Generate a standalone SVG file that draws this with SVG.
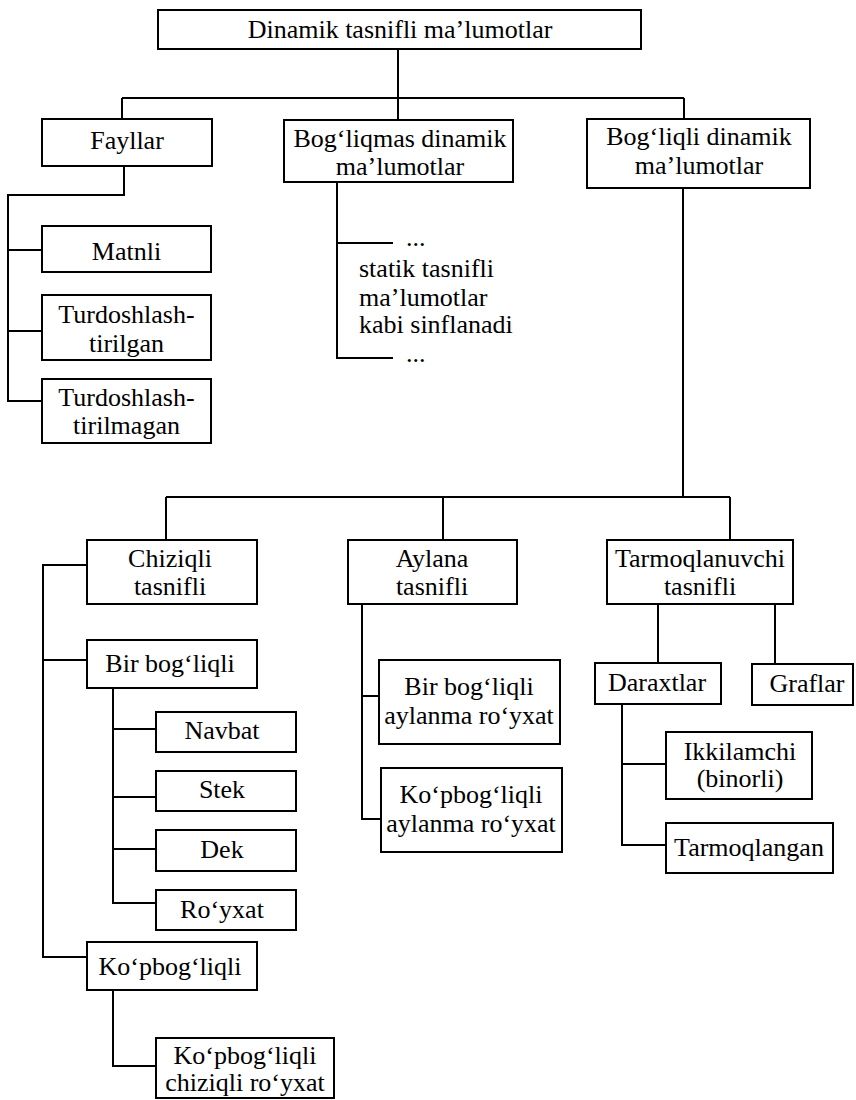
<svg xmlns="http://www.w3.org/2000/svg" width="856" height="1100" viewBox="0 0 856 1100">
  <style>
    .box { fill: #ffffff; stroke: #000000; stroke-width: 2; }
    text { font-family: 'Liberation Serif', 'Times New Roman', Times, serif; font-size: 26px; fill: #000000; }
    .lbl { text-anchor: middle; }
    .wire { fill: none; stroke: #000000; stroke-width: 2; }
  </style>
  <rect x="0" y="0" width="856" height="1100" fill="#ffffff"/>

  <!-- connectors -->
  <g id="connectors" class="wire">
    <path d="M398,49 V120"/>
    <path d="M122,98 H684"/>
    <path d="M122,98 V119"/>
    <path d="M684,98 V119"/>
    <!-- Fayllar branch -->
    <path d="M124,166 V195 H8 V401 H42"/>
    <path d="M8,250 H42"/>
    <path d="M8,331 H42"/>
    <!-- Bog'liqmas branch -->
    <path d="M337,182 V358 H393"/>
    <path d="M337,243 H393"/>
    <!-- Bog'liqli branch -->
    <path d="M683,188 V497"/>
    <path d="M166,497 H730"/>
    <path d="M166,497 V540"/>
    <path d="M443,497 V540"/>
    <path d="M730,497 V540"/>
    <!-- Chiziqli -->
    <path d="M87,565 H43 V957 H87"/>
    <path d="M43,660 H87"/>
    <!-- Bir bog'liqli -->
    <path d="M113,688 V903 H156"/>
    <path d="M113,729 H156"/>
    <path d="M113,797 H156"/>
    <path d="M113,849 H156"/>
    <!-- Ko'pbog'liqli -->
    <path d="M113,990 V1066 H156"/>
    <!-- Aylana -->
    <path d="M362,604 V819 H381"/>
    <path d="M362,696 H379"/>
    <!-- Tarmoqlanuvchi -->
    <path d="M658,604 V663"/>
    <path d="M775,604 V664"/>
    <!-- Daraxtlar -->
    <path d="M622,704 V845 H666"/>
    <path d="M622,764 H666"/>
  </g>

  <g id="root">
    <rect class="box" x="158" y="10" width="483" height="39"/>
    <text class="lbl" x="400" y="38" font-family="Liberation Serif">Dinamik tasnifli ma’lumotlar</text>
  </g>

  <g id="fayllar">
    <rect class="box" x="42" y="119" width="170" height="47"/>
    <text class="lbl" x="127" y="149">Fayllar</text>
  </g>

  <g id="matnli">
    <rect class="box" x="42" y="226" width="169" height="46"/>
    <text class="lbl" x="126.5" y="260">Matnli</text>
  </g>

  <g id="tirilgan">
    <rect class="box" x="42" y="295" width="169" height="65"/>
    <text class="lbl" x="126.5" y="323">Turdoshlash-</text>
    <text class="lbl" x="126.5" y="352">tirilgan</text>
  </g>

  <g id="tirilmagan">
    <rect class="box" x="42" y="379" width="169" height="64"/>
    <text class="lbl" x="126.5" y="406">Turdoshlash-</text>
    <text class="lbl" x="126.5" y="434">tirilmagan</text>
  </g>

  <g id="bogliqmas">
    <rect class="box" x="284" y="120" width="229" height="62"/>
    <text class="lbl" x="400" y="147">Bog‘liqmas dinamik</text>
    <text class="lbl" x="400" y="175">ma’lumotlar</text>
  </g>

  <g id="bogliqmas-note">
    <text x="406" y="246">...</text>
    <text x="359" y="277">statik tasnifli</text>
    <text x="359" y="306">ma’lumotlar</text>
    <text x="359" y="333">kabi sinflanadi</text>
    <text x="406" y="362">...</text>
  </g>

  <g id="bogliqli">
    <rect class="box" x="587" y="119" width="223" height="69"/>
    <text class="lbl" x="699" y="145">Bog‘liqli dinamik</text>
    <text class="lbl" x="699" y="174">ma’lumotlar</text>
  </g>

  <g id="chiziqli">
    <rect class="box" x="87" y="540" width="170" height="64"/>
    <text class="lbl" x="170" y="567">Chiziqli</text>
    <text class="lbl" x="170" y="595">tasnifli</text>
  </g>

  <g id="aylana">
    <rect class="box" x="348" y="540" width="169" height="64"/>
    <text class="lbl" x="432" y="567">Aylana</text>
    <text class="lbl" x="432" y="595">tasnifli</text>
  </g>

  <g id="tarmoqlanuvchi">
    <rect class="box" x="607" y="540" width="186" height="64"/>
    <text class="lbl" x="700" y="567">Tarmoqlanuvchi</text>
    <text class="lbl" x="700" y="595">tasnifli</text>
  </g>

  <g id="bir-bogliqli">
    <rect class="box" x="87" y="640" width="170" height="48"/>
    <text class="lbl" x="170" y="672">Bir bog‘liqli</text>
  </g>

  <g id="navbat">
    <rect class="box" x="156" y="712" width="140" height="40"/>
    <text class="lbl" x="222" y="739">Navbat</text>
  </g>

  <g id="stek">
    <rect class="box" x="156" y="771" width="140" height="40"/>
    <text class="lbl" x="222" y="798">Stek</text>
  </g>

  <g id="dek">
    <rect class="box" x="156" y="830" width="140" height="41"/>
    <text class="lbl" x="222" y="858">Dek</text>
  </g>

  <g id="royxat">
    <rect class="box" x="156" y="890" width="140" height="40"/>
    <text class="lbl" x="222" y="918">Ro‘yxat</text>
  </g>

  <g id="kopbogliqli">
    <rect class="box" x="87" y="942" width="170" height="48"/>
    <text class="lbl" x="170" y="975">Ko‘pbog‘liqli</text>
  </g>

  <g id="kopbogliqli-chiziqli">
    <rect class="box" x="156" y="1038" width="178" height="60"/>
    <text class="lbl" x="245" y="1064">Ko‘pbog‘liqli</text>
    <text class="lbl" x="245" y="1091">chiziqli ro‘yxat</text>
  </g>

  <g id="bir-aylanma">
    <rect class="box" x="379" y="660" width="181" height="84"/>
    <text class="lbl" x="469" y="695">Bir bog‘liqli</text>
    <text class="lbl" x="469" y="724">aylanma ro‘yxat</text>
  </g>

  <g id="kop-aylanma">
    <rect class="box" x="381" y="768" width="181" height="84"/>
    <text class="lbl" x="471" y="803">Ko‘pbog‘liqli</text>
    <text class="lbl" x="471" y="832">aylanma ro‘yxat</text>
  </g>

  <g id="daraxtlar">
    <rect class="box" x="595" y="663" width="126" height="41"/>
    <text class="lbl" x="657" y="691">Daraxtlar</text>
  </g>

  <g id="graflar">
    <rect class="box" x="752" y="664" width="101" height="41"/>
    <text class="lbl" x="807" y="692">Graflar</text>
  </g>

  <g id="ikkilamchi">
    <rect class="box" x="666" y="732" width="146" height="67"/>
    <text class="lbl" x="740" y="760">Ikkilamchi</text>
    <text class="lbl" x="740" y="787">(binorli)</text>
  </g>

  <g id="tarmoqlangan">
    <rect class="box" x="666" y="823" width="167" height="50"/>
    <text class="lbl" x="749" y="856">Tarmoqlangan</text>
  </g>
</svg>
